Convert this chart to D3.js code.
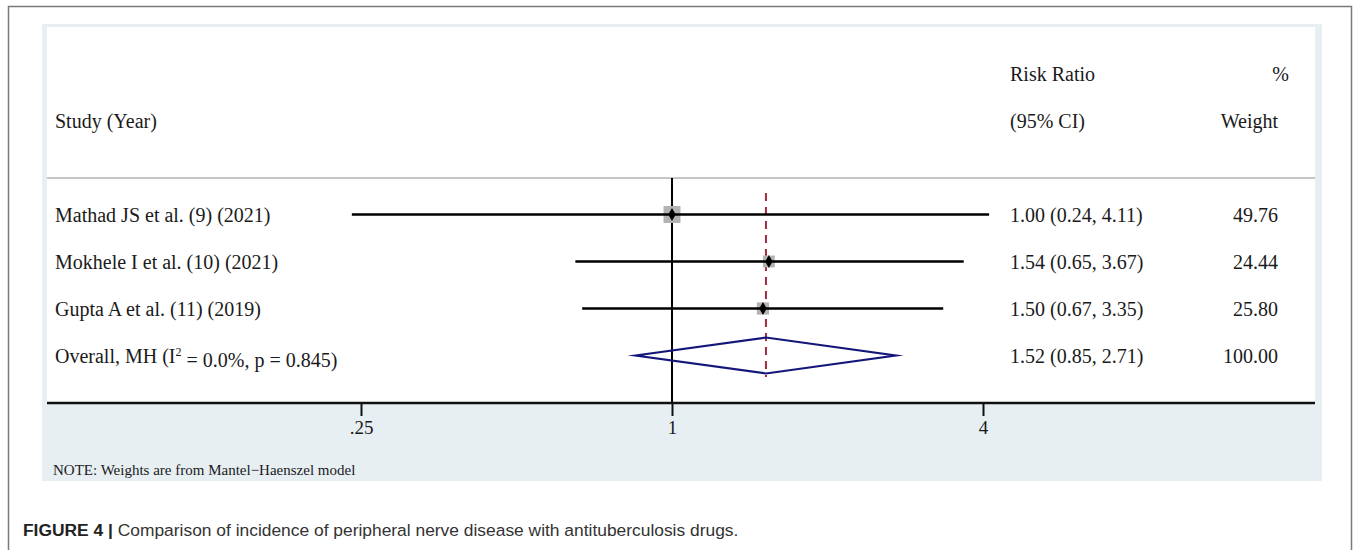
<!DOCTYPE html>
<html>
<head>
<meta charset="utf-8">
<script src="https://cdn.jsdelivr.net/npm/d3@7"></script>
<style>
  html, body { margin: 0; padding: 0; background: #ffffff; }
  svg { display: block; }
  .serif { font-family: "Liberation Serif", "Times New Roman", serif; fill: #1a1a1a; }
  .sans { font-family: "Liberation Sans", Arial, sans-serif; fill: #333333; }
</style>
</head>
<body>
<svg id="chart" width="1357" height="550"></svg>
<script>
// Study-level results (risk ratio with 95% CI, Mantel-Haenszel weights)
const studies   = ["Mathad JS et al. (9) (2021)", "Mokhele I et al. (10) (2021)", "Gupta A et al. (11) (2019)"];
const riskRatio = [1.00, 1.54, 1.50];
const ciLower   = [0.24, 0.65, 0.67];
const ciUpper   = [4.11, 3.67, 3.35];
const weights   = [49.76, 24.44, 25.80];

// Pooled estimate
const overallLabel  = "Overall, MH";
const overallStats  = ["= 0.0%, p = 0.845)"];
const overallRR     = 1.52;
const overallLower  = 0.85;
const overallUpper  = 2.71;
const overallWeight = 100.00;

// Axis ticks
const tickValues = [0.25, 1, 4];
const tickLabels = [".25", "1", "4"];

const svg = d3.select("#chart");

// Outer figure frame
svg.append("rect")
  .attr("x", 8.5).attr("y", 6.5).attr("width", 1343).attr("height", 580)
  .attr("fill", "none").attr("stroke", "#7a7a7a").attr("stroke-width", 1.5);

// Plot panel (light background) and white plot region
svg.append("rect").attr("x", 42).attr("y", 24).attr("width", 1280).attr("height", 457).attr("fill", "#e7eff3");
svg.append("rect").attr("x", 47).attr("y", 27).attr("width", 1268).attr("height", 376).attr("fill", "#ffffff");

// Scales
const x = d3.scaleLog().base(2).domain([0.25, 4]).range([361, 983]);
const row = d3.scaleLinear().domain([0, 1]).range([73.5, 120.5]);
const boxSide = d3.scaleSqrt().domain([0, 100]).range([0, 24]);

const fmt2 = d3.format(".2f");
const ciText = (r, l, u) => `${fmt2(r)} (${fmt2(l)}, ${fmt2(u)})`;

const colText = 1010;
const colWeight = 1278;
const axisY = 403;
const sepY = 178;
const textSize = 20;

// Header
const header = svg.append("g").attr("class", "serif").style("font-size", textSize + "px");
header.append("text").attr("x", 55).attr("y", row(1)).attr("dy", "0.35em").text("Study (Year)");
header.append("text").attr("x", colText).attr("y", row(0)).attr("dy", "0.35em").text("Risk Ratio");
header.append("text").attr("x", colText).attr("y", row(1)).attr("dy", "0.35em").text("(95% CI)");
header.append("text").attr("x", 1289).attr("y", row(0)).attr("dy", "0.35em").attr("text-anchor", "end").text("%");
header.append("text").attr("x", colWeight).attr("y", row(1)).attr("dy", "0.35em").attr("text-anchor", "end").text("Weight");

// Header separator
svg.append("line").attr("x1", 47).attr("x2", 1315).attr("y1", sepY).attr("y2", sepY)
  .attr("stroke", "#c6c6c6").attr("stroke-width", 2);

// Null line at RR = 1
svg.append("line").attr("x1", x(1)).attr("x2", x(1)).attr("y1", sepY).attr("y2", axisY)
  .attr("stroke", "#000").attr("stroke-width", 2);

// Pooled estimate reference line
svg.append("line").attr("x1", x(overallRR)).attr("x2", x(overallRR))
  .attr("y1", 193).attr("y2", 377)
  .attr("stroke", "#a3283c").attr("stroke-width", 2).attr("stroke-dasharray", "8,6");

// Study rows
const rowsData = studies.map((s, i) => ({
  study: s, rr: riskRatio[i], lo: ciLower[i], hi: ciUpper[i], w: weights[i], y: row(3 + i)
}));

const g = svg.append("g");

// Weight boxes
g.selectAll("rect.box").data(rowsData).join("rect")
  .attr("class", "box")
  .attr("x", d => x(d.rr) - boxSide(d.w) / 2)
  .attr("y", d => d.y - boxSide(d.w) / 2)
  .attr("width", d => boxSide(d.w))
  .attr("height", d => boxSide(d.w))
  .attr("fill", "#b3b3b3");

// Confidence intervals
g.selectAll("line.ci").data(rowsData).join("line")
  .attr("class", "ci")
  .attr("x1", d => x(d.lo)).attr("x2", d => x(d.hi))
  .attr("y1", d => d.y).attr("y2", d => d.y)
  .attr("stroke", "#000").attr("stroke-width", 2.5);

// Point estimates
g.selectAll("path.pt").data(rowsData).join("path")
  .attr("class", "pt")
  .attr("transform", d => `translate(${x(d.rr)},${d.y})`)
  .attr("d", d3.symbol(d3.symbolDiamond, 48))
  .attr("fill", "#000");

// Row text
const rt = svg.append("g").attr("class", "serif").style("font-size", textSize + "px");
rt.selectAll("text.study").data(rowsData).join("text")
  .attr("class", "study").attr("x", 55).attr("y", d => d.y).attr("dy", "0.35em").text(d => d.study);
rt.selectAll("text.est").data(rowsData).join("text")
  .attr("class", "est").attr("x", colText).attr("y", d => d.y).attr("dy", "0.35em")
  .text(d => ciText(d.rr, d.lo, d.hi));
rt.selectAll("text.wt").data(rowsData).join("text")
  .attr("class", "wt").attr("x", colWeight).attr("y", d => d.y).attr("dy", "0.35em")
  .attr("text-anchor", "end").text(d => fmt2(d.w));

// Overall row
const oy = row(6);
const ov = rt.append("text").attr("x", 55).attr("y", oy).attr("dy", "0.35em");
ov.append("tspan").text(overallLabel + " (I");
ov.append("tspan").attr("dy", "-0.55em").style("font-size", "12px").text("2");
ov.append("tspan").attr("dy", "0.55em").text(" " + overallStats[0]);
rt.append("text").attr("x", colText).attr("y", oy).attr("dy", "0.35em")
  .text(ciText(overallRR, overallLower, overallUpper));
rt.append("text").attr("x", colWeight).attr("y", oy).attr("dy", "0.35em")
  .attr("text-anchor", "end").text(fmt2(overallWeight));

// Pooled diamond
const dh = 18;
svg.append("path")
  .attr("d", d3.line()([
    [x(overallLower), oy], [x(overallRR), oy - dh], [x(overallUpper), oy], [x(overallRR), oy + dh]
  ]) + "Z")
  .attr("fill", "none").attr("stroke", "#14167a").attr("stroke-width", 2.2)
  .attr("stroke-linejoin", "miter").attr("stroke-miterlimit", 12);

// X axis
svg.append("line").attr("x1", 47).attr("x2", 1315).attr("y1", axisY).attr("y2", axisY)
  .attr("stroke", "#111").attr("stroke-width", 2.5);
const axis = d3.axisBottom(x)
  .tickValues(tickValues)
  .tickFormat((d, i) => tickLabels[i])
  .tickSize(13).tickPadding(5);
const ag = svg.append("g").attr("transform", `translate(0,${axisY})`).call(axis);
ag.select(".domain").remove();
ag.selectAll(".tick line").attr("stroke", "#111").attr("stroke-width", 2);
ag.selectAll(".tick text")
  .attr("class", "serif")
  .style("font-size", "19px").style("font-family", "'Liberation Serif', 'Times New Roman', serif")
  .attr("fill", "#1a1a1a");

// Note
svg.append("text").attr("class", "serif").attr("x", 53).attr("y", 470).attr("dy", "0.35em")
  .style("font-size", "15px").text("NOTE: Weights are from Mantel\u2212Haenszel model");

// Caption
const cap = svg.append("text").attr("class", "sans").attr("x", 23).attr("y", 530).attr("dy", "0.35em")
  .style("font-size", "17.4px");
cap.append("tspan").style("font-weight", "bold").attr("fill", "#222").text("FIGURE 4 | ");
cap.append("tspan").text("Comparison of incidence of peripheral nerve disease with antituberculosis drugs.");
</script>
</body>
</html>
